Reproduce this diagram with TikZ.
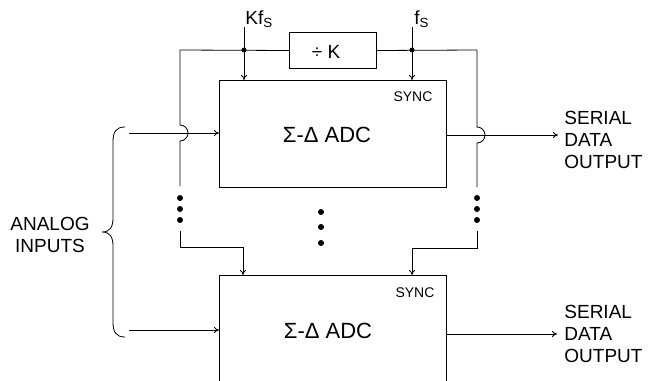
\documentclass[tikz,border=0pt]{standalone}
\usepackage{fontspec}
\setmainfont{Liberation Sans}
\usetikzlibrary{arrows.meta}
\begin{document}
\begin{tikzpicture}[x=1pt,y=-1pt,line width=0.8pt,
  arr/.style={-{To[length=5pt,width=6pt]}},
  blk/.style={draw,line width=1pt,inner sep=0pt,anchor=north west},
  lbl/.style={font=\fontsize{19}{22}\selectfont,align=left,inner sep=0pt},
  adctxt/.style={font=\fontsize{22}{24}\selectfont,inner sep=0pt},
  synctxt/.style={font=\fontsize{14}{16}\selectfont,inner sep=0pt},
  clktxt/.style={font=\fontsize{19}{21}\selectfont,inner sep=0pt,anchor=base west},
  jdot/.style={circle,fill,inner sep=0pt,minimum size=5pt},
  edot/.style={circle,fill,inner sep=0pt,minimum size=6pt}]
\useasboundingbox (0,0) rectangle (655,380);
\clip (0,0) rectangle (655,380);
% blocks
\node[blk,minimum width=227pt,minimum height=107pt] (adc1) at (219,80) {};
\node[blk,minimum width=227pt,minimum height=120pt] (adc2) at (219,275) {};
\node[blk,minimum width=87pt,minimum height=36pt] (divk) at (289,32) {};
\node[lbl] (divktxt) at (326,52) {÷ K};
\node[adctxt] (adc1txt) at (327,135) {Σ-Δ ADC};
\node[adctxt] (adc2txt) at (328,331) {Σ-Δ ADC};
\node[synctxt] (sync1) at (413,97) {SYNC};
\node[synctxt] (sync2) at (415,293) {SYNC};
% clock labels
\node[clktxt] (kflbl) at (245,24) {Kf\textsubscript{S}};
\node[clktxt] (flbl) at (414,24) {f\textsubscript{S}};
\coordinate (kft) at (244,27);
\coordinate (fft) at (412,27);
\coordinate (lt) at (180,50);
\coordinate (rt) at (477,50);
\node[jdot] (kj) at (244,50) {};
\node[jdot] (fj) at (412,50) {};
% clock distribution
\draw (lt) -- (divk.west);
\draw (divk.east) -- (rt);
\draw[arr] (kft) -- (adc1.north -| kft);
\draw[arr] (fft) -- (adc1.north -| fft);
\draw (lt) -- (180,125) arc[start angle=-90,end angle=90,radius=8] -- (180,186);
\draw (rt) -- (477,127) arc[start angle=-90,end angle=90,radius=8] -- (477,187);
\foreach \y in {198,209,220} {
  \node[edot] at (180,\y) {};
  \node[edot] at (477,\y) {};
}
\foreach \y in {212,227,243} { \node[edot] at (321,\y) {}; }
\draw[arr] (180,231) |- (243,247) -- (adc2.north -| 243,247);
\draw[arr] (477,231) |- (412,248) -- (adc2.north -| 412,248);
% inputs and outputs
\coordinate (in1) at (129,133);
\coordinate (in2) at (129,330);
\coordinate (out1) at (558,135);
\coordinate (out2) at (557,334);
\draw[arr] (in1) -- (adc1.west |- in1);
\draw[arr] (in2) -- (adc2.west |- in2);
\draw[arr] (adc1.east |- out1) -- (out1);
\draw[arr] (adc2.east |- out2) -- (out2);
\node[lbl,anchor=west] (sdo1) at (564,140) {SERIAL\\DATA\\OUTPUT};
\node[lbl,anchor=west] (sdo2) at (564,334) {SERIAL\\DATA\\OUTPUT};
% brace and analog inputs
\draw (125,127) .. controls (116,127) and (113,132) .. (113,142) -- (113,218)
  .. controls (113,227) and (110,232) .. (102,232)
  .. controls (110,232) and (113,237) .. (113,246) -- (113,322)
  .. controls (113,332) and (116,337) .. (125,337);
\node[lbl,align=center,anchor=center] (ain) at (50,235) {ANALOG\\INPUTS};
\end{tikzpicture}
\end{document}
